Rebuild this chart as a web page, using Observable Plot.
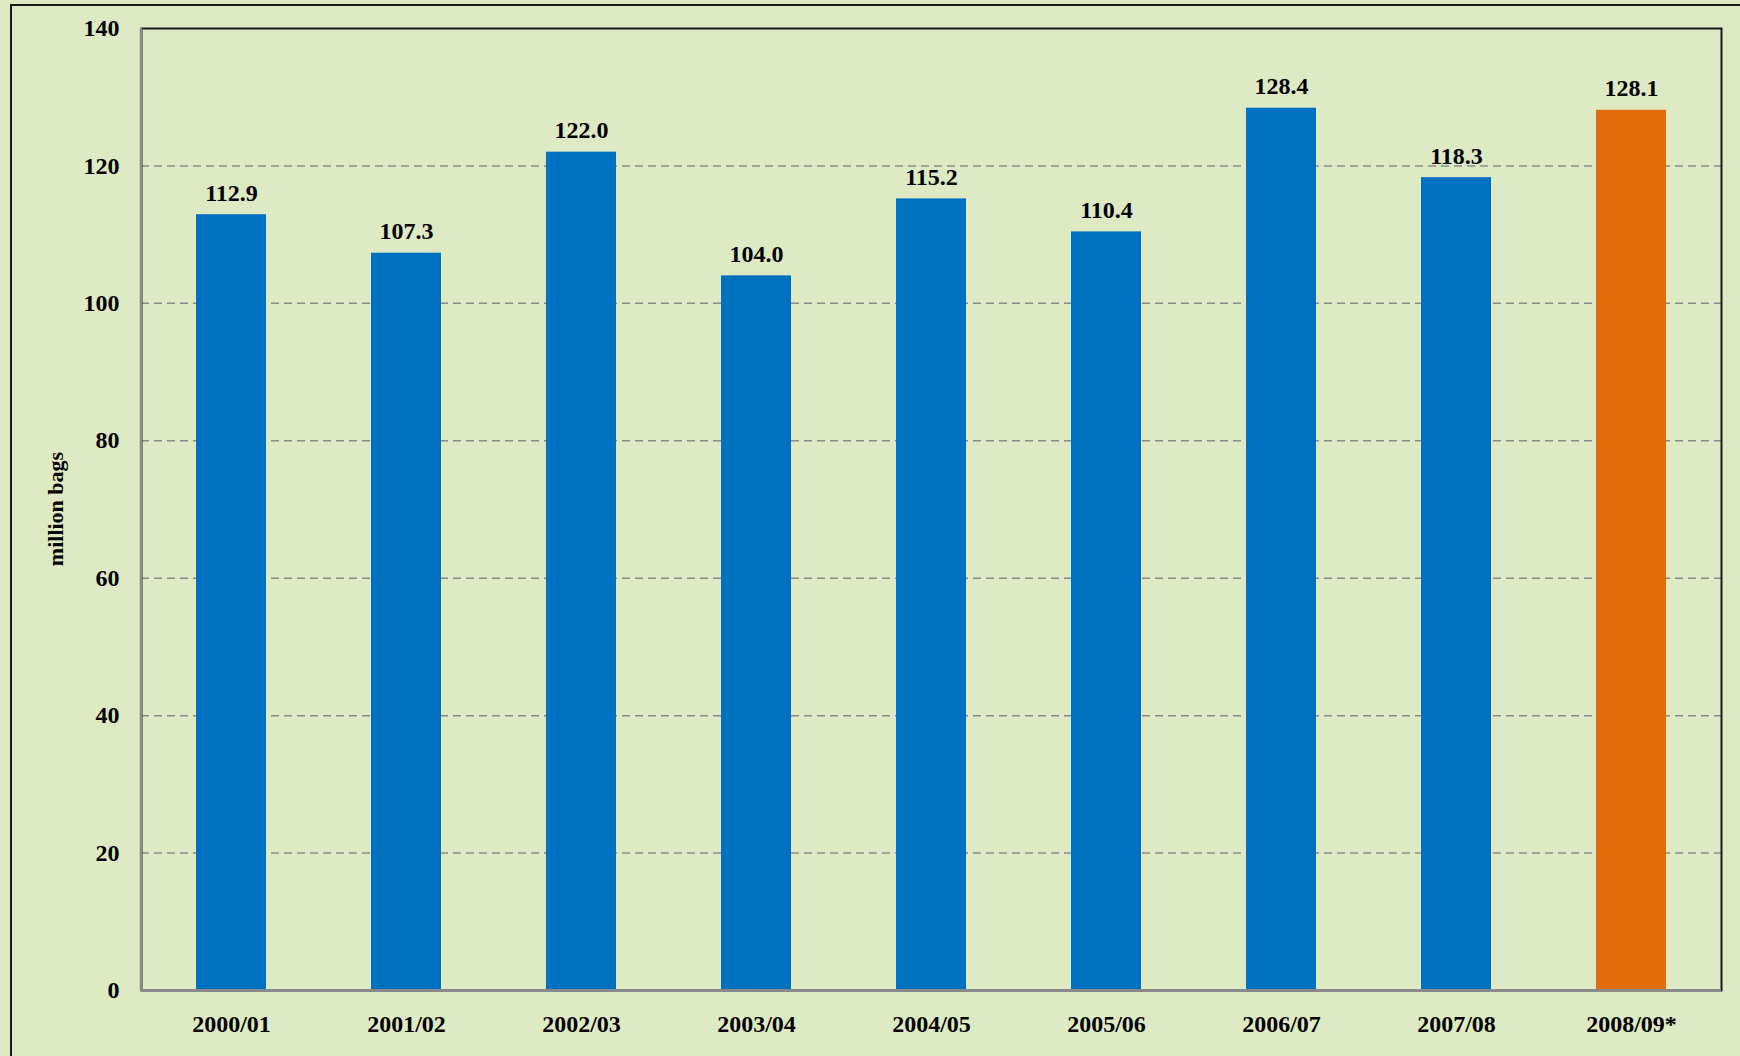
<!DOCTYPE html>
<html>
<head>
<meta charset="utf-8">
<script src="https://cdn.jsdelivr.net/npm/d3@7"></script>
<script src="https://cdn.jsdelivr.net/npm/@observablehq/plot@0.6"></script>
<style>
  html, body { margin: 0; padding: 0; background: #DEEAC4; }
  #wrap { position: relative; width: 1740px; height: 1056px; overflow: hidden; background: #DEEAC4; }
  #outer { position: absolute; left: 10px; top: 4px; width: 1800px; height: 1200px; border-left: 2px solid #1a1a1a; border-top: 2px solid #1a1a1a; }
  #chart { position: absolute; left: 0; top: 0; }
</style>
</head>
<body>
<div id="wrap"><div id="outer"></div><div id="chart"></div></div>
<script>
const seasons = ["2000/01", "2001/02", "2002/03", "2003/04", "2004/05", "2005/06", "2006/07", "2007/08", "2008/09*"];
const values = [112.9, 107.3, 122.0, 104.0, 115.2, 110.4, 128.4, 118.3, 128.1];
const kinds = ["actual", "actual", "actual", "actual", "actual", "actual", "actual", "actual", "estimate"];
const yTicks = [0, 20, 40, 60, 80, 100, 120, 140];
const gridTicks = [20, 40, 60, 80, 100, 120];
const yLabel = "million bags";

const data = seasons.map((s, i) => ({season: s, value: values[i], kind: kinds[i]}));

const W = 1740, H = 1056;
const mL = 141, mT = 28, mR = 19, mB = 66;
const font = "'Liberation Serif', 'Times New Roman', serif";

const chart = Plot.plot({
  width: W,
  height: H,
  marginLeft: mL,
  marginTop: mT,
  marginRight: mR,
  marginBottom: mB,
  style: {background: "transparent", fontFamily: font, fontWeight: "bold", fontSize: "24px", color: "#000"},
  x: {domain: seasons, paddingInner: 0.6, paddingOuter: 0.3, label: null},
  y: {domain: [0, 140], label: null},
  color: {domain: ["actual", "estimate"], range: ["#0070C0", "#E36C0A"]},
  marks: [
    Plot.gridY(gridTicks, {stroke: "#8a8a8a", strokeOpacity: 1, strokeWidth: 1.5, strokeDasharray: "8,5"}),
    Plot.barY(data, {x: "season", y: "value", fill: "kind"}),
    Plot.text(data, {x: "season", y: "value", text: d => d.value.toFixed(1), lineAnchor: "bottom", dy: -14, fontSize: 24, fontWeight: "bold", fill: "#000"}),
    Plot.frame({stroke: "#1a1a1a", strokeWidth: 2}),
    Plot.ruleY([0], {stroke: "#8a8a8a", strokeWidth: 3}),
    Plot.axisY(yTicks, {tickSize: 0, tickPadding: 22, fontSize: 24, fontWeight: "bold", label: null}),
    Plot.axisX({tickSize: 0, tickPadding: 24, fontSize: 24, fontWeight: "bold", label: null})
  ]
});

const svg = d3.select(chart);
const y = chart.scale("y");
// gray left axis line
svg.append("line")
  .attr("x1", mL).attr("x2", mL)
  .attr("y1", y.apply(140)).attr("y2", y.apply(0))
  .attr("stroke", "#8a8a8a").attr("stroke-width", 2.5);
// y axis title
svg.append("text")
  .attr("transform", `translate(55,${(mT + (H - mB)) / 2}) rotate(-90)`)
  .attr("text-anchor", "middle")
  .attr("dy", "0.35em")
  .attr("font-family", font)
  .attr("font-weight", "bold")
  .attr("font-size", 22)
  .attr("fill", "#000")
  .text(yLabel);

document.getElementById("chart").appendChild(chart);
</script>
</body>
</html>
